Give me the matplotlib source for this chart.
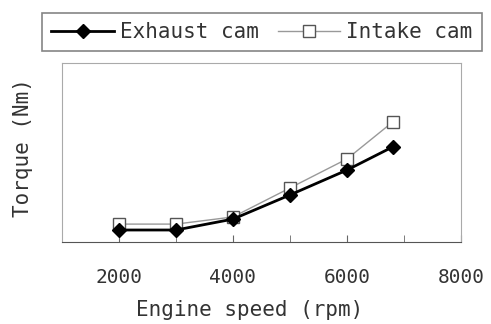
import matplotlib
matplotlib.use('Agg')
from matplotlib import pyplot as plt

plt.rcParams['font.family'] = ['DejaVu Sans Mono']

# engine speed (rpm)
speed = [2000, 3000, 4000, 5000, 6000, 6800]
# torque, arbitrary units (axis has no scale)
torque_exhaust = [6.7, 6.7, 12.8, 26.3, 40.2, 53.1]
torque_intake = [10.0, 10.0, 14.0, 30.2, 46.4, 67.0]

fig = plt.figure(figsize=(4.91, 3.24), dpi=100)
ax = fig.add_axes([62/491, 1 - 242/324, (461-62)/491, (242-63)/324])

ax.plot(speed, torque_intake, color='#999999', lw=1.0, marker='s', ms=8,
        mfc='white', mec='#555555', mew=1.0, label='Intake cam', zorder=2)
ax.plot(speed, torque_exhaust, color='black', lw=2.0, marker='D', ms=7,
        label='Exhaust cam', zorder=3)

ax.set_xlim(1000, 8000)
ax.set_ylim(0, 100)
ax.set_xticks([2000, 4000, 6000, 8000])
ax.set_xticks([3000, 5000, 7000], minor=True)
ax.set_yticks([])
ax.tick_params(axis='x', which='both', direction='in', length=5,
               color='#666666')
ax.tick_params(axis='x', which='major', labelsize=14, labelcolor='#333333',
               pad=19)
for s in ax.spines.values():
    s.set_color('#aaaaaa')
ax.spines['bottom'].set_color('#555555')

ax.set_xlabel('Engine speed (rpm)', fontsize=15, color='#333333', va='center')
ax.xaxis.set_label_coords(0.47, -0.38)
ax.set_ylabel('Torque (Nm)', fontsize=15, color='#333333', va='center')
ax.yaxis.set_label_coords(-0.098, 0.53)

handles, labels = ax.get_legend_handles_labels()
leg = fig.legend(handles[::-1], labels[::-1], loc='center',
                 bbox_to_anchor=(262/491, 1 - 32/324), ncol=2,
                 fontsize=15, frameon=True, fancybox=False, handlelength=3.0,
                 handletextpad=0.3, columnspacing=0.9, borderpad=0.45,
                 borderaxespad=0)
leg.get_frame().set_edgecolor('#666666')
leg.get_frame().set_linewidth(1.2)
for t in leg.get_texts():
    t.set_color('#333333')

fig.savefig('out.png', dpi=100)
